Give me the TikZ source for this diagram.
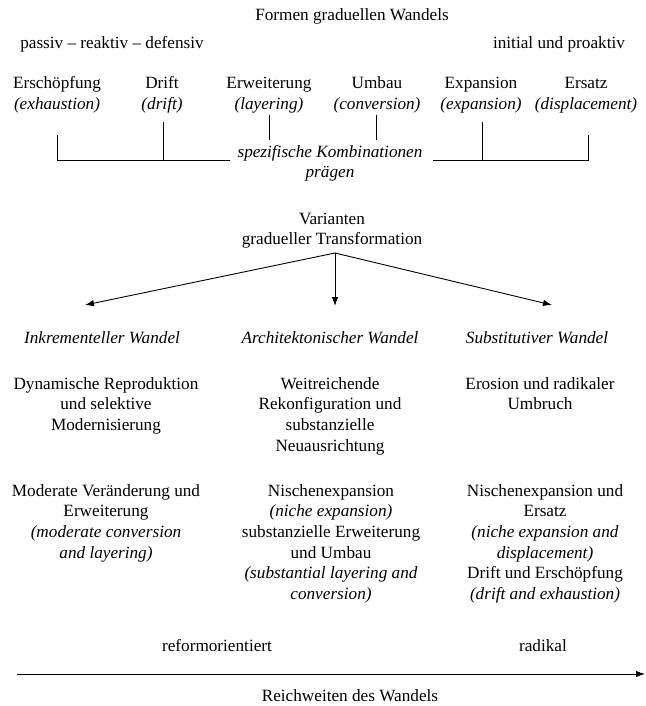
\documentclass[tikz,border=0pt]{standalone}
\usepackage{fontspec}
\setmainfont{Liberation Serif}
\usetikzlibrary{arrows.meta}
\newcommand{\fsz}{\fontsize{17.2}{20.7}\selectfont}
\tikzset{
  txt/.style={font=\fsz, inner sep=0pt, align=center, anchor=base},
  ittxt/.style={txt, font=\fsz\itshape},
  ln/.style={line width=0.9pt, black},
  arr/.style={line width=0.9pt, black, -{Latex[length=9pt,width=6.5pt]}}
}
\begin{document}
\begin{tikzpicture}[x=1pt,y=-1pt]
\useasboundingbox (0,0) rectangle (645,706);

% header
\node[txt] (title) at (352,21) {Formen graduellen Wandels};
\node[txt] (passiv) at (112,49) {passiv -- reaktiv -- defensiv};
\node[txt] (initial) at (559,49) {initial und proaktiv};

% forms (anchor = baseline of last line)
\node[txt] (ersch) at (57,109.7) {Erschöpfung\\\textit{(exhaustion)}};
\node[txt] (drift) at (162,109.7) {Drift\\\textit{(drift)}};
\node[txt] (erw) at (269,109.7) {Erweiterung\\\textit{(layering)}};
\node[txt] (umbau) at (377,109.7) {Umbau\\\textit{(conversion)}};
\node[txt] (exp) at (481,109.7) {Expansion\\\textit{(expansion)}};
\node[txt] (ersatz) at (586,109.7) {Ersatz\\\textit{(displacement)}};

% bracket
\coordinate (t1a) at (57,135);  \coordinate (t1b) at (57,160);
\coordinate (t2a) at (163,122); \coordinate (t2b) at (163,160);
\coordinate (t3a) at (269,115); \coordinate (t3b) at (269,140);
\coordinate (t4a) at (376,115); \coordinate (t4b) at (376,140);
\coordinate (t5a) at (482,122); \coordinate (t5b) at (482,160);
\coordinate (t6a) at (588,135); \coordinate (t6b) at (588,160);
\coordinate (hl) at (230,160);
\coordinate (hr) at (433,160);
\draw[ln] (t1a) -- (t1b) -- (hl);
\draw[ln] (t2a) -- (t2b);
\draw[ln] (t3a) -- (t3b);
\draw[ln] (t4a) -- (t4b);
\draw[ln] (t5a) -- (t5b);
\draw[ln] (hr) -- (t6b) -- (t6a);
\node[ittxt] (komb) at (330,177.7) {spezifische Kombinationen\\prägen};

% variants
\node[txt] (var) at (332,244.7) {Varianten\\gradueller Transformation};
\coordinate (src) at (335,253);
\coordinate (ta) at (85,305);
\coordinate (tb) at (335,306);
\coordinate (tc) at (552,305);
\draw[arr] (src) -- (ta);
\draw[arr] (src) -- (tb);
\draw[arr] (src) -- (tc);

\node[ittxt] (inkr) at (102,343) {Inkrementeller Wandel};
\node[ittxt] (arch) at (330,343) {Architektonischer Wandel};
\node[ittxt] (subst) at (537,343) {Substitutiver Wandel};

\node[txt] (dyn) at (106,430.4) {Dynamische Reproduktion\\und selektive\\Modernisierung};
\node[txt] (weit) at (330,451.1) {Weitreichende\\Rekonfiguration und\\substanzielle\\Neuausrichtung};
\node[txt] (eros) at (540,409.7) {Erosion und radikaler\\Umbruch};

\node[txt] (mod) at (106,558.1) {Moderate Veränderung und\\Erweiterung\\\textit{(moderate conversion}\\\textit{and layering)}};
\node[txt] (nisch) at (331,599.5) {Nischenexpansion\\\textit{(niche expansion)}\\substanzielle Erweiterung\\und Umbau\\\textit{(substantial layering and}\\\textit{conversion)}};
\node[txt] (nischu) at (545,599.5) {Nischenexpansion und\\Ersatz\\\textit{(niche expansion and}\\\textit{displacement)}\\Drift und Erschöpfung\\\textit{(drift and exhaustion)}};

% scope axis
\node[txt] (reform) at (217,651) {reformorientiert};
\node[txt] (radikal) at (543,651) {radikal};
\coordinate (al) at (17,674);
\coordinate (ar) at (645,674);
\draw[arr] (al) -- (ar);
\node[txt] (reich) at (350,701) {Reichweiten des Wandels};
\end{tikzpicture}
\end{document}
